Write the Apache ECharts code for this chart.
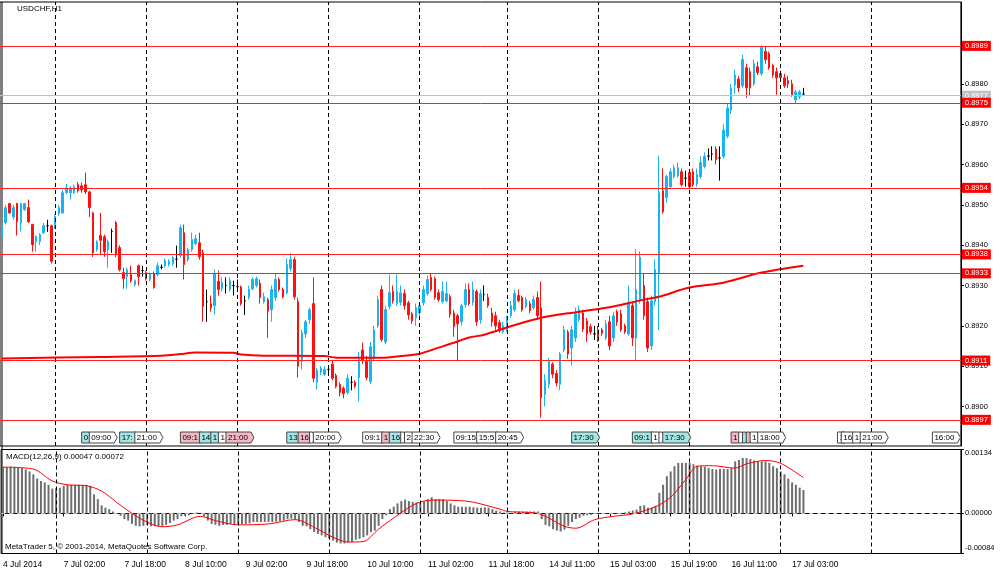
<!DOCTYPE html>
<html><head><meta charset="utf-8">
<script src="https://cdn.jsdelivr.net/npm/echarts@6/dist/echarts.min.js"></script>
<style>html,body{margin:0;padding:0;background:#fff}#c{width:1000px;height:574px}</style>
</head><body><div id="c"></div>
<script>
// ---- time categories (H1 bars) ----
const sessions = [['4 Jul',10,14],['7 Jul',0,24],['8 Jul',0,24],['9 Jul',0,24],['10 Jul',0,24],['11 Jul',0,23],['14 Jul',0,24],['15 Jul',0,24],['16 Jul',0,24],['17 Jul',0,24],['18 Jul',0,24]];
const categories = [];
sessions.forEach(([d,h0,n]) => { for (let k=0;k<n;k++){ categories.push(d+' '+String(h0+k).padStart(2,'0')+':00'); } });
const tickIndex = [0,16,32,48,64,80,96,112,128,144,160,176,192,208];
const tickLabels = ['4 Jul 2014','7 Jul 02:00','7 Jul 18:00','8 Jul 10:00','9 Jul 02:00','9 Jul 18:00','10 Jul 10:00','11 Jul 02:00','11 Jul 18:00','14 Jul 11:00','15 Jul 03:00','15 Jul 19:00','16 Jul 11:00','17 Jul 03:00'];
const sepIndex = [14,38,62,86,110,133,157,181,205,229];
const priceTicks = [0.8900,0.8910,0.8920,0.8930,0.8940,0.8950,0.8960,0.8970,0.8980,0.8990];
const macdTicks = [0.00134,0,-0.00084];
const levels = [0.89894,0.89753,0.89542,0.89377,0.89330,0.89114,0.88967];
const currentPrice = 0.897705;

// ---- candles [open, high, low, close] ----
const ohlc = [
[.89420,.89455,.89376,.89448],[.89456,.89500,.89451,.89493],[.89503,.89505,.89478,.89480],[.89470,.89500,.89463,.89493],[.89503,.89505,.89424,.89458],
[.89455,.89505,.89434,.89503],[.89488,.89505,.89485,.89503],[.89493,.89513,.89455,.89458],[.89451,.89453,.89384,.89401],[.89409,.89424,.89384,.89421],
[.89409,.89430,.89400,.89426],[.89431,.89455,.89428,.89448],[.89448,.89463,.89433,.89448],[.89448,.89451,.89355,.89360],[.89451,.89476,.89440,.89471],
[.89478,.89500,.89473,.89493],[.89480,.89537,.89478,.89530],[.89530,.89552,.89527,.89542],[.89530,.89547,.89513,.89542],[.89530,.89550,.89527,.89545],
[.89550,.89557,.89530,.89535],[.89547,.89555,.89530,.89537],[.89550,.89580,.89527,.89532],[.89532,.89535,.89470,.89493],[.89480,.89483,.89371,.89381],
[.89389,.89412,.89384,.89409],[.89424,.89480,.89376,.89412],[.89421,.89426,.89371,.89384],[.89389,.89414,.89344,.89409],[.89434,.89441,.89381,.89434],
[.89456,.89460,.89370,.89376],[.89394,.89400,.89335,.89339],[.89332,.89344,.89292,.89317],[.89322,.89344,.89292,.89339],[.89327,.89349,.89307,.89312],
[.89302,.89315,.89298,.89312],[.89349,.89352,.89300,.89322],[.89337,.89349,.89322,.89337],[.89332,.89337,.89312,.89317],[.89315,.89332,.89310,.89327],
[.89329,.89335,.89292,.89295],[.89327,.89357,.89322,.89349],[.89345,.89352,.89340,.89345],[.89349,.89367,.89344,.89362],[.89352,.89365,.89347,.89360],
[.89354,.89374,.89349,.89369],[.89365,.89399,.89344,.89365],[.89374,.89451,.89369,.89443],[.89431,.89451,.89315,.89352],[.89364,.89394,.89359,.89389],
[.89389,.89431,.89384,.89414],[.89404,.89426,.89399,.89416],[.89406,.89431,.89364,.89371],[.89381,.89389,.89210,.89248],[.89260,.89290,.89210,.89260],
[.89255,.89275,.89235,.89245],[.89250,.89340,.89228,.89330],[.89310,.89337,.89275,.89290],[.89292,.89320,.89285,.89307],[.89300,.89320,.89280,.89300],
[.89290,.89320,.89285,.89312],[.89300,.89312,.89275,.89300],[.89297,.89315,.89285,.89297],[.89297,.89300,.89250,.89255],[.89262,.89275,.89227,.89262],
[.89270,.89300,.89265,.89290],[.89292,.89320,.89288,.89315],[.89300,.89322,.89295,.89317],[.89305,.89315,.89255,.89270],[.89260,.89282,.89255,.89272],
[.89265,.89270,.89170,.89236],[.89240,.89300,.89210,.89290],[.89270,.89330,.89262,.89315],[.89315,.89320,.89285,.89290],[.89290,.89295,.89268,.89272],
[.89282,.89367,.89278,.89352],[.89342,.89380,.89335,.89364],[.89364,.89370,.89265,.89272],[.89260,.89270,.89072,.89100],[.89112,.89190,.89092,.89183],
[.89180,.89215,.89170,.89210],[.89215,.89245,.89205,.89240],[.89255,.89320,.89060,.89070],[.89060,.89095,.89042,.89090],[.89085,.89100,.89078,.89095],
[.89080,.89100,.89075,.89092],[.89092,.89100,.89085,.89092],[.89105,.89115,.89065,.89070],[.89077,.89082,.89045,.89050],[.89055,.89060,.89025,.89035],
[.89045,.89050,.89020,.89032],[.89035,.89080,.89030,.89070],[.89060,.89075,.89040,.89060],[.89060,.89065,.89045,.89050],[.89072,.89135,.89012,.89117],
[.89140,.89158,.89105,.89115],[.89112,.89125,.89065,.89072],[.89062,.89160,.89055,.89148],[.89120,.89200,.89115,.89190],[.89200,.89275,.89195,.89265],
[.89290,.89300,.89160,.89166],[.89160,.89250,.89155,.89240],[.89248,.89327,.89240,.89282],[.89285,.89300,.89255,.89262],[.89255,.89327,.89250,.89285],
[.89258,.89300,.89250,.89282],[.89280,.89290,.89240,.89250],[.89257,.89262,.89215,.89227],[.89230,.89235,.89205,.89212],[.89220,.89255,.89200,.89245],
[.89232,.89257,.89225,.89250],[.89257,.89300,.89250,.89290],[.89280,.89325,.89275,.89315],[.89320,.89330,.89285,.89290],[.89317,.89322,.89265,.89270],
[.89282,.89290,.89260,.89265],[.89260,.89310,.89255,.89285],[.89262,.89310,.89258,.89280],[.89272,.89278,.89220,.89228],[.89232,.89240,.89173,.89198],
[.89225,.89230,.89112,.89205],[.89210,.89255,.89200,.89250],[.89252,.89305,.89245,.89290],[.89290,.89305,.89250,.89255],[.89258,.89310,.89250,.89290],
[.89285,.89290,.89200,.89210],[.89215,.89290,.89205,.89280],[.89278,.89300,.89262,.89278],[.89270,.89280,.89245,.89250],[.89232,.89245,.89198,.89210],
[.89225,.89235,.89190,.89200],[.89208,.89215,.89183,.89188],[.89185,.89210,.89180,.89200],[.89190,.89225,.89185,.89218],[.89225,.89262,.89220,.89250],
[.89240,.89290,.89235,.89280],[.89275,.89290,.89258,.89262],[.89270,.89275,.89235,.89240],[.89248,.89272,.89244,.89265],[.89255,.89262,.89232,.89238],
[.89245,.89275,.89240,.89265],[.89270,.89285,.89215,.89225],[.89245,.89310,.88972,.89022],[.89030,.89080,.89000,.89065],[.89055,.89120,.89045,.89112],
[.89105,.89110,.89070,.89080],[.89082,.89090,.89050,.89058],[.89055,.89135,.89040,.89130],[.89140,.89200,.89135,.89190],[.89185,.89190,.89118,.89130],
[.89145,.89200,.89102,.89190],[.89170,.89245,.89160,.89230],[.89215,.89250,.89210,.89240],[.89232,.89240,.89185,.89192],[.89212,.89220,.89160,.89180],
[.89198,.89205,.89178,.89185],[.89180,.89200,.89165,.89180],[.89190,.89200,.89160,.89170],[.89190,.89195,.89175,.89182],[.89170,.89215,.89165,.89205],
[.89210,.89225,.89140,.89150],[.89170,.89235,.89160,.89225],[.89235,.89240,.89200,.89210],[.89230,.89240,.89185,.89190],[.89200,.89205,.89180,.89185],
[.89180,.89300,.89175,.89255],[.89250,.89260,.89150,.89170],[.89170,.89390,.89115,.89290],[.89265,.89385,.89255,.89370],[.89300,.89330,.89215,.89225],
[.89260,.89270,.89135,.89145],[.89150,.89275,.89140,.89262],[.89260,.89365,.89250,.89340],[.89330,.89622,.89190,.89530],[.89535,.89590,.89478,.89483],
[.89518,.89575,.89505,.89570],[.89545,.89590,.89540,.89582],[.89570,.89600,.89565,.89592],[.89572,.89605,.89568,.89592],[.89582,.89590,.89545,.89550],
[.89566,.89585,.89545,.89566],[.89580,.89585,.89540,.89545],[.89582,.89590,.89545,.89550],[.89552,.89590,.89545,.89575],[.89570,.89620,.89565,.89605],
[.89595,.89630,.89590,.89620],[.89621,.89640,.89610,.89621],[.89626,.89645,.89610,.89626],[.89638,.89645,.89600,.89612],[.89616,.89645,.89560,.89616],
[.89620,.89700,.89615,.89685],[.89670,.89750,.89665,.89740],[.89735,.89800,.89725,.89790],[.89797,.89835,.89775,.89822],[.89812,.89820,.89780,.89790],
[.89795,.89872,.89790,.89860],[.89840,.89850,.89765,.89790],[.89830,.89840,.89770,.89790],[.89800,.89860,.89795,.89850],[.89842,.89855,.89822,.89828],
[.89825,.89895,.89820,.89890],[.89880,.89892,.89850,.89860],[.89875,.89880,.89835,.89840],[.89845,.89850,.89815,.89822],[.89830,.89840,.89773,.89815],
[.89825,.89832,.89810,.89815],[.89815,.89825,.89790,.89795],[.89808,.89820,.89790,.89800],[.89800,.89810,.89768,.89773],[.89760,.89785,.89750,.89780],
[.89768,.89785,.89762,.89780],[.89775,.89790,.89770,.89775]
];

// ---- moving average (sampled bars) ----
const maIdx = [0,26,42,47,51,61,63,69,85,88,100,105,110,115,119,123,127,133,142,152,161,169,173,181,190,200,211];
const maVal = [.89119,.89123,.89126,.89130,.89134,.89133,.89129,.89126,.89125,.89121,.89121,.89125,.89131,.89146,.89158,.89171,.89178,.89196,.89220,.89235,.89248,.89265,.89272,.89295,.89307,.89332,.89349];

// ---- MACD histogram (per bar) ----
const macdHist = [
0.00097,0.00097,0.00098,0.00097,0.00097,0.00095,0.00092,0.00088,0.00082,0.00073,
0.00068,0.00065,0.00060,0.00052,0.00053,0.00054,0.00058,0.00060,0.00060,0.00060,
0.00060,0.00060,0.00060,0.00058,0.00040,0.00030,0.00017,0.00012,0.00009,0.00004,
-0.00001,-0.00005,-0.00012,-0.00015,-0.00022,-0.00026,-0.00027,-0.00026,-0.00024,-0.00027,
-0.00027,-0.00027,-0.00027,-0.00024,-0.00020,-0.00015,-0.00012,-0.00006,-0.00005,-0.00004,
-0.00001,0.00002,0.00000,-0.00006,-0.00015,-0.00022,-0.00024,-0.00026,-0.00024,-0.00024,
-0.00022,-0.00024,-0.00024,-0.00022,-0.00022,-0.00021,-0.00018,-0.00018,-0.00018,-0.00018,
-0.00018,-0.00018,-0.00017,-0.00016,-0.00015,-0.00012,-0.00011,-0.00012,-0.00018,-0.00026,
-0.00027,-0.00033,-0.00039,-0.00043,-0.00046,-0.00050,-0.00053,-0.00057,-0.00061,-0.00063,
-0.00063,-0.00061,-0.00060,-0.00055,-0.00053,-0.00050,-0.00046,-0.00039,-0.00036,-0.00026,
-0.00012,-0.00004,0.00009,0.00014,0.00021,0.00026,0.00029,0.00026,0.00024,0.00023,
0.00023,0.00025,0.00030,0.00034,0.00030,0.00030,0.00030,0.00026,0.00021,0.00017,
0.00014,0.00014,0.00014,0.00014,0.00013,0.00012,0.00012,0.00013,0.00012,0.00009,
0.00006,0.00004,0.00002,0.00002,0.00001,0.00004,0.00004,0.00004,0.00004,0.00004,
0.00004,0.00004,-0.00012,-0.00024,-0.00027,-0.00033,-0.00036,-0.00038,-0.00034,-0.00026,
-0.00018,-0.00012,-0.00009,-0.00005,-0.00004,-0.00003,-0.00001,-0.00001,0.00001,-0.00001,
-0.00001,-0.00001,0.00001,0.00001,0.00002,0.00004,0.00006,0.00008,0.00016,0.00017,
0.00012,0.00012,0.00016,0.00043,0.00060,0.00078,0.00088,0.00099,0.00106,0.00106,
0.00106,0.00106,0.00103,0.00100,0.00099,0.00098,0.00095,0.00093,0.00092,0.00093,
0.00093,0.00093,0.00095,0.00109,0.00112,0.00116,0.00116,0.00114,0.00111,0.00109,
0.00109,0.00109,0.00106,0.00099,0.00095,0.00088,0.00082,0.00073,0.00065,0.00060,
0.00054,0.00049
];
// ---- MACD signal (sampled bars) ----
const sigIdx = [0,8,13,17,22,26,30,35,39,42,46,52,56,62,70,77,83,87,91,95,99,105,109,113,122,131,133,141,148,151,156,161,166,172,176,180,183,187,193,196,201,205,211];
const sigVal = [0.00097,0.00093,0.00068,0.00060,0.00058,0.00047,0.00023,-0.00005,-0.00022,-0.00028,-0.00024,-0.00006,-0.00015,-0.00024,-0.00022,-0.00013,-0.00033,-0.00050,-0.00060,-0.00059,-0.00033,0.00002,0.00021,0.00028,0.00026,0.00009,0.00004,0.00000,-0.00027,-0.00031,-0.00013,-0.00006,-0.00001,0.00014,0.00034,0.00071,0.00099,0.00100,0.00095,0.00104,0.00111,0.00105,0.00075];

// ---- event markers ----
const markerIdx = [21,23,31,35,47,52,55,57,59,75,78,81,82,95,100,102,105,106,108,119,125,130,150,166,171,173,174,192,194,195,196,197,199,220,221,224,226,245];
const markerText = ['0','09:00','17:','21:00','09:1','14','1','1','21:00','13','16','','20:00','09:1','1','16','','2','22:30','09:15','15:5','20:45','17:30','09:1','1','','17:30','1','','','','1','18:00','1','16','1','21:00','16:00'];
const markerKind = ['t','w','t','w','p','t','t','w','p','t','p','w','w','w','p','t','w','w','w','w','w','w','t','t','w','w','t','p','w','t','p','w','w','w','w','w','w','w'];

const FONT = 'Liberation Sans';
const chart = echarts.init(document.getElementById('c'));
const fills = {t:'#a3e6e6', p:'#f4b8c4', w:'#ffffff'};
const sepStyle = {color:'#000', type:[4,3], width:1};
const levelLabel = {show:true, position:'end', distance:1, color:'#fff', fontSize:7.5, fontFamily:FONT, padding:[1,3,0,3], lineHeight:9, formatter:p=>Number(p.value).toFixed(4)};

chart.setOption({
  animation: false,
  backgroundColor: '#fff',
  textStyle: {fontFamily: FONT},
  grid: [
    {left:-0.5, top:2, width:961.4, height:444, show:true, borderColor:'#000', borderWidth:1},
    {left:-0.5, top:449.5, width:961.4, height:104, show:true, borderColor:'#000', borderWidth:1}
  ],
  xAxis: [
    {type:'category', gridIndex:0, data:categories, boundaryGap:true,
     axisLine:{show:false}, axisTick:{show:false}, axisLabel:{show:false}, splitLine:{show:false}},
    {type:'category', gridIndex:1, data:categories, boundaryGap:true,
     axisLine:{show:true, lineStyle:{color:'#000'}},
     axisTick:{show:true, alignWithLabel:true, length:3, lineStyle:{color:'#000'}, interval:(i)=>tickIndex.includes(i)},
     axisLabel:{show:true, interval:(i)=>tickIndex.includes(i), align:'left', margin:7, fontSize:8.5, color:'#000', fontFamily:FONT,
       formatter:(v,i)=>{const k=tickIndex.indexOf(i); return k>=0?tickLabels[k]:'';}},
     splitLine:{show:false}}
  ],
  yAxis: [
    {type:'value', gridIndex:0, position:'right', min:0.889021, max:0.900028,
     axisLine:{show:true, lineStyle:{color:'#000'}},
     axisTick:{show:true, length:3, customValues:priceTicks, lineStyle:{color:'#000'}},
     axisLabel:{show:true, customValues:priceTicks, margin:4, fontSize:7.5, color:'#000', fontFamily:FONT, formatter:v=>v.toFixed(4)},
     splitLine:{show:false}},
    {type:'value', gridIndex:1, position:'right', min:-0.00084, max:0.00134,
     axisLine:{show:true, lineStyle:{color:'#000'}},
     axisTick:{show:true, length:3, customValues:macdTicks, lineStyle:{color:'#000'}},
     axisLabel:{show:true, customValues:macdTicks, margin:4, fontSize:7.5, color:'#000', fontFamily:FONT,
       formatter:v=>{const s=v.toFixed(5); return v>0?'{t|'+s+'}':(v<0?'{b|'+s+'}':s);},
       rich:{t:{padding:[7,0,0,0], fontSize:7.5, fontFamily:FONT, color:'#000'}, b:{padding:[0,0,11,0], fontSize:7.5, fontFamily:FONT, color:'#000'}}},
     splitLine:{show:false}}
  ],
  series: [
    {type:'line', xAxisIndex:0, yAxisIndex:0, data:maIdx.map((i,k)=>[i,maVal[k]]), smooth:0.3, symbol:'none',
     lineStyle:{color:'#ff0000', width:2}, z:4,
     markLine:{symbol:'none', silent:true, precision:6, label:{show:false}, lineStyle:sepStyle,
       data: sepIndex.map(i=>({xAxis:categories[i], lineStyle:sepStyle, label:{show:false}}))
         .concat([{yAxis:currentPrice, lineStyle:{color:'#c0c0c0', type:'solid', width:1}, label:Object.assign({}, levelLabel, {backgroundColor:'#c0c0c0'})}])
         .concat(levels.map(v=>({yAxis:v, lineStyle:{color:'#ff2020', type:'solid', width:1}, label:Object.assign({}, levelLabel, {backgroundColor:'#ff0000'})})))}},
    {type:'candlestick', xAxisIndex:0, yAxisIndex:0, barWidth:2,
     data: ohlc.map(r=>[r[0], r[3], r[2], r[1]]),
     itemStyle:{color:'#1ab4f0', color0:'#ff1010', borderColor:'#1ab4f0', borderColor0:'#ff1010', borderColorDoji:'#000', borderWidth:1},
     z:3},
    {type:'custom', xAxisIndex:0, yAxisIndex:0, z:5, silent:true,
     data: markerIdx.map(i=>[i]),
     encode:{x:0},
     renderItem:(params, api)=>{
       const k = params.dataIndex;
       const x = api.coord([api.value(0), 0.895])[0];
       const cs = params.coordSys;
       const h = 11;
       const y = cs.y + cs.height - 14;
       const txt = markerText[k];
       const w = 3 + txt.length*4.4;
       return {type:'group', children:[
         {type:'polygon', shape:{points:[[x,y],[x+w,y],[x+w+3,y+h/2],[x+w,y+h],[x,y+h]]}, style:{fill:fills[markerKind[k]], stroke:'#444', lineWidth:1}},
         {type:'text', style:{text:txt, x:x+2, y:y+h/2+0.5, verticalAlign:'middle', font:'8px '+FONT, fill:'#000'}}
       ]};
     }},
    {type:'bar', xAxisIndex:1, yAxisIndex:1, data:macdHist, barWidth:2, itemStyle:{color:'#6e6e6e'}, z:2,
     markLine:{symbol:'none', silent:true, precision:6, label:{show:false},
       data:[{yAxis:0, lineStyle:{color:'#b4b4b4', type:[4,4], width:1}}].concat(sepIndex.map(i=>({xAxis:categories[i], lineStyle:sepStyle})))}},
    {type:'line', xAxisIndex:1, yAxisIndex:1, data:sigIdx.map((i,k)=>[i,sigVal[k]]), smooth:0.3, symbol:'none',
     lineStyle:{color:'#ff0000', width:1}, z:3}
  ],
  graphic: [
    {type:'line', shape:{x1:2, y1:2, x2:2, y2:553.5}, style:{stroke:'#000', lineWidth:1}},
    {type:'text', left:17, top:5, style:{text:'USDCHF,H1', font:'8px '+FONT, fill:'#000'}},
    {type:'text', left:6, top:453, style:{text:'MACD(12,26,9) 0.00047 0.00072', font:'8px '+FONT, fill:'#000'}},
    {type:'text', left:5, top:543, style:{text:'MetaTrader 5, © 2001-2014, MetaQuotes Software Corp.', font:'8px '+FONT, fill:'#000'}}
  ]
});
</script></body></html>
